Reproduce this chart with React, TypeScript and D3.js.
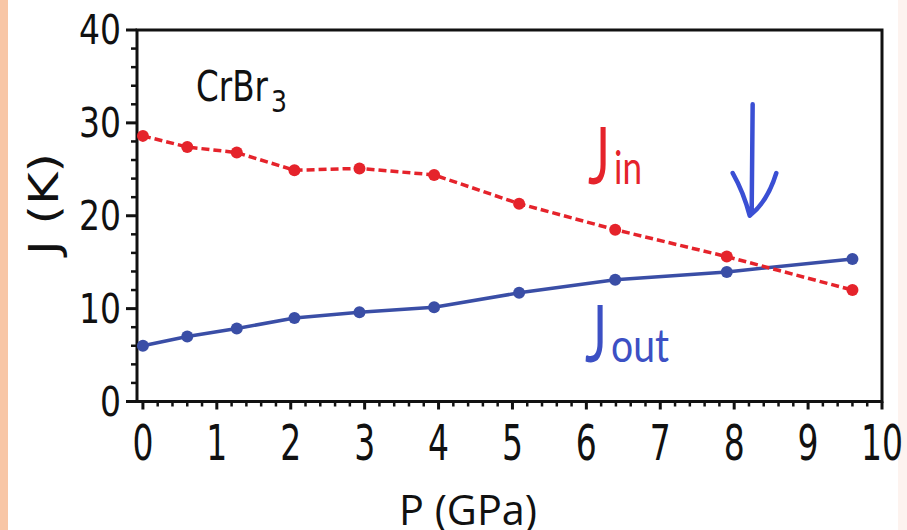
import React, { useEffect, useRef } from "react";
import * as d3 from "d3";

// Exchange couplings of CrBr3 under pressure
const pressure = [0.0, 0.6, 1.27, 2.05, 2.93, 3.94, 5.09, 6.39, 7.9, 9.6];
const jIn = [28.6, 27.4, 26.8, 24.9, 25.1, 24.4, 21.3, 18.5, 15.6, 12.0];
const jOut = [6.0, 7.0, 7.85, 9.0, 9.6, 10.15, 11.7, 13.1, 13.95, 15.35];

const xTicks = [0, 1, 2, 3, 4, 5, 6, 7, 8, 9, 10];
const yTicks = [0, 10, 20, 30, 40];

// crossing marker (data units)
const arrowX = 8.25;
const arrowTop = 32;
const arrowTip = 20;

const W = 907;
const H = 530;
const RED = "#e5232b";
const BLUE = "#3a4ea6";
const BLUE_TXT = "#3c50c4";
const ARROW = "#3a4fd4";

export default function App() {
  const ref = useRef<SVGSVGElement | null>(null);

  useEffect(() => {
    const svg = d3.select(ref.current);
    svg.selectAll("*").remove();

    const x = d3.scaleLinear().domain([-0.08, 10]).range([137, 882]);
    const y = d3.scaleLinear().domain([0, 40]).range([401.5, 30]);

    svg.append("rect").attr("width", W).attr("height", H).attr("fill", "#ffffff");
    svg.append("rect").attr("x", 0).attr("y", 0).attr("width", 8).attr("height", H).attr("fill", "#f8c6a6");
    svg.append("rect").attr("x", W - 9).attr("y", 0).attr("width", 9).attr("height", H).attr("fill", "#fdf3ef");

    const g = svg.append("g");

    // minor ticks
    const xMinor = d3.range(0, 10.001, 0.2).filter((v) => Math.abs(v - Math.round(v)) > 1e-6);
    g.selectAll(".xminor")
      .data(xMinor)
      .join("line")
      .attr("x1", (d) => x(d))
      .attr("x2", (d) => x(d))
      .attr("y1", y(0))
      .attr("y2", y(0) + 5)
      .attr("stroke", "#111")
      .attr("stroke-width", 2.5);
    g.selectAll(".xmajor")
      .data(xTicks)
      .join("line")
      .attr("x1", (d) => x(d))
      .attr("x2", (d) => x(d))
      .attr("y1", y(0))
      .attr("y2", y(0) + 8)
      .attr("stroke", "#111")
      .attr("stroke-width", 3);

    const yMinor = d3.range(0, 40.001, 2).filter((v) => v % 10 !== 0);
    g.selectAll(".yminor")
      .data(yMinor)
      .join("line")
      .attr("x1", x.range()[0] - 6)
      .attr("x2", x.range()[0])
      .attr("y1", (d) => y(d))
      .attr("y2", (d) => y(d))
      .attr("stroke", "#111")
      .attr("stroke-width", 2.5);
    g.selectAll(".ymajor")
      .data(yTicks)
      .join("line")
      .attr("x1", x.range()[0] - 11)
      .attr("x2", x.range()[0])
      .attr("y1", (d) => y(d))
      .attr("y2", (d) => y(d))
      .attr("stroke", "#111")
      .attr("stroke-width", 3);

    // frame
    g.append("rect")
      .attr("x", x.range()[0])
      .attr("y", y.range()[1])
      .attr("width", x.range()[1] - x.range()[0])
      .attr("height", y.range()[0] - y.range()[1])
      .attr("fill", "none")
      .attr("stroke", "#111")
      .attr("stroke-width", 3);

    // tick labels
    g.selectAll(".xl")
      .data(xTicks)
      .join("text")
      .attr("x", (d) => x(d))
      .attr("y", 460)
      .attr("text-anchor", "middle")
      .attr("font-family", "DejaVu Sans")
      .attr("font-size", 50)
      .attr("fill", "#111")
      .attr("textLength", (d) => String(d).length * 21)
      .attr("lengthAdjust", "spacingAndGlyphs")
      .text((d) => String(d));

    g.selectAll(".yl")
      .data(yTicks)
      .join("text")
      .attr("x", 121)
      .attr("y", (d) => y(d) + 14)
      .attr("text-anchor", "end")
      .attr("font-family", "DejaVu Sans")
      .attr("font-size", 40)
      .attr("fill", "#111")
      .attr("textLength", (d) => String(d).length * 21)
      .attr("lengthAdjust", "spacingAndGlyphs")
      .text((d) => String(d));

    // axis titles
    g.append("text")
      .attr("x", 468)
      .attr("y", 525)
      .attr("text-anchor", "middle")
      .attr("font-family", "Open Sans")
      .attr("font-size", 42)
      .attr("fill", "#111")
      .attr("textLength", 138)
      .attr("lengthAdjust", "spacingAndGlyphs")
      .text("P (GPa)");

    g.append("text")
      .attr("transform", "translate(58,204) rotate(-90)")
      .attr("text-anchor", "middle")
      .attr("font-family", "DejaVu Sans")
      .attr("font-size", 40)
      .attr("fill", "#111")
      .attr("textLength", 102)
      .attr("lengthAdjust", "spacingAndGlyphs")
      .text("J (K)");

    // compound label
    g.append("text")
      .attr("x", 196)
      .attr("y", 101)
      .attr("font-family", "DejaVu Sans")
      .attr("font-size", 42)
      .attr("fill", "#111")
      .attr("textLength", 72)
      .attr("lengthAdjust", "spacingAndGlyphs")
      .text("CrBr");
    g.append("text")
      .attr("x", 271)
      .attr("y", 112)
      .attr("font-family", "DejaVu Sans")
      .attr("font-size", 31)
      .attr("fill", "#111")
      .attr("textLength", 16)
      .attr("lengthAdjust", "spacingAndGlyphs")
      .text("3");

    // series
    const ptsIn = pressure.map((p, i) => [p, jIn[i]] as [number, number]);
    const ptsOut = pressure.map((p, i) => [p, jOut[i]] as [number, number]);
    const line = d3
      .line<[number, number]>()
      .x((d) => x(d[0]))
      .y((d) => y(d[1]));

    g.append("path")
      .attr("d", line(ptsOut))
      .attr("fill", "none")
      .attr("stroke", BLUE)
      .attr("stroke-width", 3.5);
    g.selectAll(".dout")
      .data(ptsOut)
      .join("circle")
      .attr("cx", (d) => x(d[0]))
      .attr("cy", (d) => y(d[1]))
      .attr("r", 6)
      .attr("fill", BLUE);

    g.append("path")
      .attr("d", line(ptsIn))
      .attr("fill", "none")
      .attr("stroke", RED)
      .attr("stroke-width", 3.5)
      .attr("stroke-dasharray", "8,4");
    g.selectAll(".din")
      .data(ptsIn)
      .join("circle")
      .attr("cx", (d) => x(d[0]))
      .attr("cy", (d) => y(d[1]))
      .attr("r", 6)
      .attr("fill", RED);

    // series labels
    const label = (main: string, sub: string, subWidth: number, color: string, x0: number, base: number) => {
      g.append("text")
        .attr("x", x0)
        .attr("y", base)
        .attr("font-family", "Lato")
        .attr("font-size", 80)
        .attr("fill", color)
        .attr("textLength", 22)
        .attr("lengthAdjust", "spacingAndGlyphs")
        .text(main);
      g.append("text")
        .attr("x", x0 + 26)
        .attr("y", base)
        .attr("font-family", "Lato")
        .attr("font-size", 47)
        .attr("fill", color)
        .attr("textLength", subWidth)
        .attr("lengthAdjust", "spacingAndGlyphs")
        .text(sub);
    };
    label("J", "in", 28, RED, 588, 184);
    label("J", "out", 58, BLUE_TXT, 585, 362);

    // hand-drawn arrow at the crossing
    const arrow = d3.path();
    arrow.moveTo(x(arrowX), y(arrowTop));
    arrow.lineTo(x(arrowX) - 1, y(arrowTip) - 2);
    arrow.moveTo(x(arrowX - 0.27), y(arrowTip + 4.6));
    arrow.quadraticCurveTo(x(arrowX - 0.12), y(arrowTip + 2.5), x(arrowX - 0.04), y(arrowTip));
    arrow.quadraticCurveTo(x(arrowX + 0.2), y(arrowTip + 1.5), x(arrowX + 0.32), y(arrowTip + 4.6));
    g.append("path")
      .attr("d", arrow.toString())
      .attr("fill", "none")
      .attr("stroke", ARROW)
      .attr("stroke-width", 4.5)
      .attr("stroke-linecap", "round")
      .attr("stroke-linejoin", "round");
  }, []);

  return (
    <svg
      ref={ref}
      width={W}
      height={H}
      style={{ position: "absolute", left: 0, top: 0, display: "block" }}
    />
  );
}
